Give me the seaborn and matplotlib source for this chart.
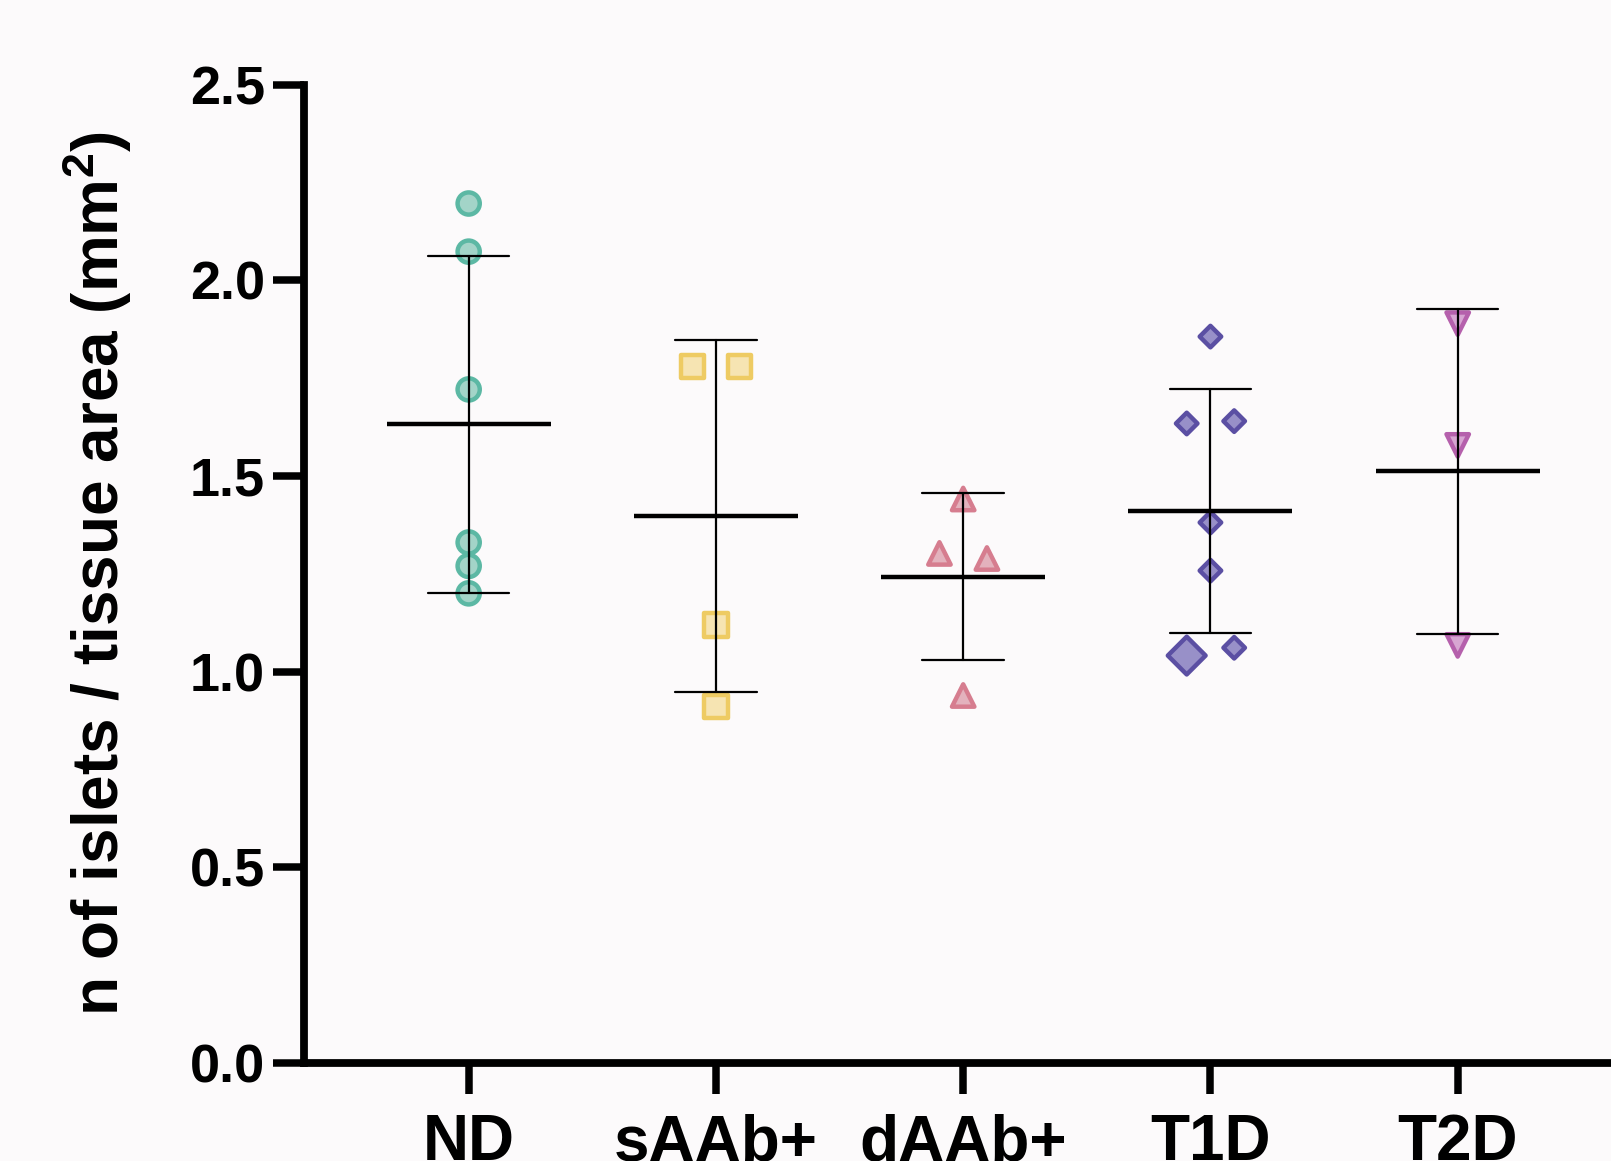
import matplotlib
matplotlib.use("Agg")
import matplotlib.pyplot as plt
from matplotlib.ticker import FormatStrFormatter, MultipleLocator
import pandas as pd
import seaborn as sns


# Data (islets per mm2 of tissue, one value per donor)
groups = ["ND", "sAAb+", "dAAb+", "T1D", "T2D"]

nd_values = [2.196, 2.073, 1.721, 1.330, 1.270, 1.200]
saab_values = [1.779, 1.779, 1.119, 0.910]
daab_values = [1.441, 1.302, 1.289, 0.939]
t1d_values = [1.856, 1.634, 1.640, 1.381, 1.258, 1.041, 1.061]
t2d_values = [1.889, 1.578, 1.067]

# column of each dot inside its group: -1 left, 0 centre, 1 right
nd_side = [0, 0, 0, 0, 0, 0]
saab_side = [-1, 1, 0, 0]
daab_side = [0, -1, 1, 0]
t1d_side = [0, -1, 1, 0, 0, -1, 1]
t2d_side = [0, 0, 0]

# the one T1D donor drawn with an enlarged marker
t1d_highlight = 5


# Styles
bg = "#fcfafb"
markers = {"ND": "o", "sAAb+": "s", "dAAb+": "^", "T1D": "D", "T2D": "v"}
fills = {"ND": "#a3d4c8", "sAAb+": "#f6e4b2", "dAAb+": "#e3b2bd",
         "T1D": "#9890c8", "T2D": "#d7a5d2"}
edges = {"ND": "#5cb8a4", "sAAb+": "#eecb63", "dAAb+": "#d67d8f",
         "T1D": "#5b4fa3", "T2D": "#b560ac"}
sizes = {"ND": 255, "sAAb+": 280, "dAAb+": 260, "T1D": 120, "T2D": 260}
big_size = 370
side_step = 0.096


# Table
frames = []
for name, vals, side in zip(
    groups,
    [nd_values, saab_values, daab_values, t1d_values, t2d_values],
    [nd_side, saab_side, daab_side, t1d_side, t2d_side],
):
    frames.append(pd.DataFrame({"group": name, "value": vals, "side": side}))

df = pd.concat(frames, ignore_index=True)
df["pos"] = df["group"].map({g: i for i, g in enumerate(groups)}) + df["side"] * side_step
df["size"] = df["group"].map(sizes)
t1d_rows = df.index[df["group"] == "T1D"]
df.loc[t1d_rows[t1d_highlight], "size"] = big_size


# Figure
sns.set_theme(style="ticks")
plt.rcParams["font.family"] = ["Liberation Sans", "DejaVu Sans"]
plt.rcParams["font.weight"] = "bold"
plt.rcParams["text.color"] = "black"
plt.rcParams["axes.labelcolor"] = "black"
plt.rcParams["xtick.color"] = "black"
plt.rcParams["ytick.color"] = "black"
plt.rcParams["mathtext.fontset"] = "custom"
plt.rcParams["mathtext.rm"] = "Liberation Sans:bold"
plt.rcParams["mathtext.bf"] = "Liberation Sans:bold"

fig, ax = plt.subplots(figsize=(16.11, 11.61), dpi=100)
fig.patch.set_facecolor(bg)
ax.set_facecolor(bg)
fig.subplots_adjust(left=0.1887, right=1.0, bottom=0.0844, top=0.9272)


# Dots
for name in groups:
    sub = df[df["group"] == name]
    sns.scatterplot(
        x=sub["pos"],
        y=sub["value"],
        marker=markers[name],
        s=sub["size"].to_numpy(),
        color=fills[name],
        edgecolor=edges[name],
        linewidth=3.2,
        ax=ax,
        zorder=3,
        legend=False
    )


# Mean +/- SD
sns.pointplot(
    data=df,
    x="group",
    y="value",
    order=groups,
    errorbar="sd",
    capsize=0.33,
    linestyle="none",
    marker="_",
    markersize=118,
    markeredgewidth=3.2,
    color="black",
    err_kws={"linewidth": 1.6, "zorder": 5},
    zorder=6,
    ax=ax
)


# Axes
ax.set_xlim(-0.666, 4.62)
ax.set_ylim(0, 2.5)
ax.yaxis.set_major_locator(MultipleLocator(0.5))
ax.yaxis.set_major_formatter(FormatStrFormatter("%.1f"))

sns.despine(ax=ax)
for side in ["left", "bottom"]:
    ax.spines[side].set_linewidth(5.6)
    ax.spines[side].set_color("black")

ax.tick_params(axis="both", length=22, width=5.4, color="black", labelcolor="black")
ax.tick_params(axis="y", labelsize=39, pad=6)
ax.tick_params(axis="x", labelsize=46, pad=14)
for lab in ax.get_xticklabels() + ax.get_yticklabels():
    lab.set_fontweight("bold")

ax.set_xlabel("")
ax.set_ylabel(
    r"n of islets / tissue area (mm$^{2}$)",
    fontsize=46,
    fontweight="bold",
    color="black"
)
ax.yaxis.set_label_coords(-0.13, 0.5)

fig.savefig("out.png", dpi=100, facecolor=bg)
